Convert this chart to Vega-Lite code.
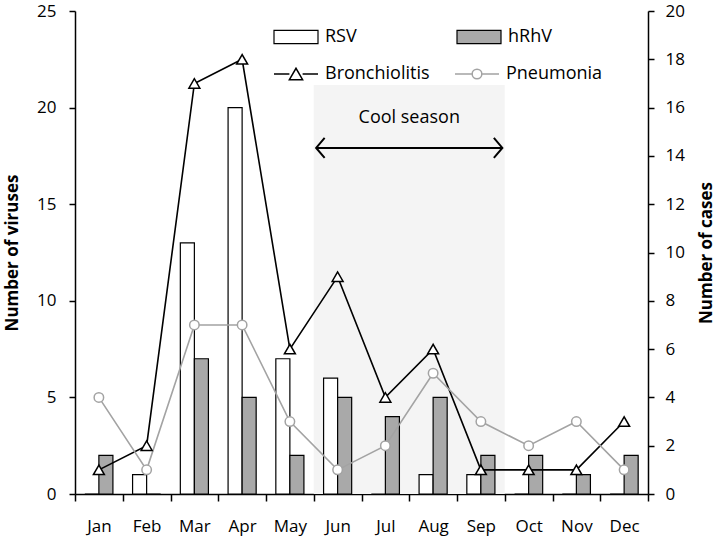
{
  "$schema": "https://vega.github.io/schema/vega-lite/v6.json",
  "width": 573,
  "height": 483,
  "autosize": {"type": "none"},
  "padding": {"left": 75, "top": 11, "right": 72, "bottom": 46},
  "background": "white",
  "config": {
    "view": {"stroke": null},
    "font": "Open Sans",
    "axis": {
      "grid": false,
      "domainColor": "black",
      "tickColor": "black",
      "labelColor": "black",
      "titleColor": "black",
      "labelFontSize": 17,
      "titleFontSize": 17,
      "titleFontWeight": "bold",
      "labelFont": "Open Sans",
      "titleFont": "Open Sans",
      "domainWidth": 1.5,
      "tickWidth": 1.5
    },
    "legend": {"labelFont": "Open Sans", "labelColor": "black"}
  },
  "datasets": {
    "viruses": [
      {"month": "Jan", "virus": "RSV", "count": 0},
      {"month": "Jan", "virus": "hRhV", "count": 2},
      {"month": "Feb", "virus": "RSV", "count": 1},
      {"month": "Feb", "virus": "hRhV", "count": 0},
      {"month": "Mar", "virus": "RSV", "count": 13},
      {"month": "Mar", "virus": "hRhV", "count": 7},
      {"month": "Apr", "virus": "RSV", "count": 20},
      {"month": "Apr", "virus": "hRhV", "count": 5},
      {"month": "May", "virus": "RSV", "count": 7},
      {"month": "May", "virus": "hRhV", "count": 2},
      {"month": "Jun", "virus": "RSV", "count": 6},
      {"month": "Jun", "virus": "hRhV", "count": 5},
      {"month": "Jul", "virus": "RSV", "count": 0},
      {"month": "Jul", "virus": "hRhV", "count": 4},
      {"month": "Aug", "virus": "RSV", "count": 1},
      {"month": "Aug", "virus": "hRhV", "count": 5},
      {"month": "Sep", "virus": "RSV", "count": 1},
      {"month": "Sep", "virus": "hRhV", "count": 2},
      {"month": "Oct", "virus": "RSV", "count": 0},
      {"month": "Oct", "virus": "hRhV", "count": 2},
      {"month": "Nov", "virus": "RSV", "count": 0},
      {"month": "Nov", "virus": "hRhV", "count": 1},
      {"month": "Dec", "virus": "RSV", "count": 0},
      {"month": "Dec", "virus": "hRhV", "count": 2}
    ],
    "cases": [
      {"month": "Jan", "disease": "Bronchiolitis", "cases": 1},
      {"month": "Feb", "disease": "Bronchiolitis", "cases": 2},
      {"month": "Mar", "disease": "Bronchiolitis", "cases": 17},
      {"month": "Apr", "disease": "Bronchiolitis", "cases": 18},
      {"month": "May", "disease": "Bronchiolitis", "cases": 6},
      {"month": "Jun", "disease": "Bronchiolitis", "cases": 9},
      {"month": "Jul", "disease": "Bronchiolitis", "cases": 4},
      {"month": "Aug", "disease": "Bronchiolitis", "cases": 6},
      {"month": "Sep", "disease": "Bronchiolitis", "cases": 1},
      {"month": "Oct", "disease": "Bronchiolitis", "cases": 1},
      {"month": "Nov", "disease": "Bronchiolitis", "cases": 1},
      {"month": "Dec", "disease": "Bronchiolitis", "cases": 3},
      {"month": "Jan", "disease": "Pneumonia", "cases": 4},
      {"month": "Feb", "disease": "Pneumonia", "cases": 1},
      {"month": "Mar", "disease": "Pneumonia", "cases": 7},
      {"month": "Apr", "disease": "Pneumonia", "cases": 7},
      {"month": "May", "disease": "Pneumonia", "cases": 3},
      {"month": "Jun", "disease": "Pneumonia", "cases": 1},
      {"month": "Jul", "disease": "Pneumonia", "cases": 2},
      {"month": "Aug", "disease": "Pneumonia", "cases": 5},
      {"month": "Sep", "disease": "Pneumonia", "cases": 3},
      {"month": "Oct", "disease": "Pneumonia", "cases": 2},
      {"month": "Nov", "disease": "Pneumonia", "cases": 3},
      {"month": "Dec", "disease": "Pneumonia", "cases": 1}
    ],
    "season": [
      {"start": 5, "end": 9, "bottom": 0, "top": 16.94, "arrowStart": 5.05, "arrowEnd": 8.95, "arrowY": 14.33, "mid": 7, "labelY": 15.57, "label": "Cool season"}
    ]
  },
  "layer": [
    {
      "data": {"name": "season"},
      "encoding": {
        "y": {"field": "arrowY", "type": "quantitative", "scale": {"domain": [0, 20], "nice": false, "zero": true}, "axis": null}
      },
      "layer": [
        {
          "mark": {"type": "rect", "color": "#f4f4f4"},
          "encoding": {
            "x": {"field": "start", "type": "quantitative", "scale": {"domain": [0, 12], "nice": false, "zero": false}, "axis": null},
            "x2": {"field": "end"},
            "y": {"field": "top", "type": "quantitative"},
            "y2": {"field": "bottom"}
          }
        },
        {
          "mark": {"type": "rule", "color": "black", "strokeWidth": 2},
          "encoding": {
            "x": {"field": "arrowStart", "type": "quantitative"},
            "x2": {"field": "arrowEnd"}
          }
        },
        {
          "mark": {"type": "point", "shape": "M0.85,-1L0,0L0.85,1", "filled": false, "stroke": "black", "strokeWidth": 2, "size": 400, "opacity": 1},
          "encoding": {
            "x": {"field": "arrowStart", "type": "quantitative"}
          }
        },
        {
          "mark": {"type": "point", "shape": "M-0.85,-1L0,0L-0.85,1", "filled": false, "stroke": "black", "strokeWidth": 2, "size": 400, "opacity": 1},
          "encoding": {
            "x": {"field": "arrowEnd", "type": "quantitative"}
          }
        },
        {
          "mark": {"type": "text", "fontSize": 18, "font": "Open Sans", "color": "black", "baseline": "middle", "align": "center"},
          "encoding": {
            "x": {"field": "mid", "type": "quantitative"},
            "y": {"field": "labelY", "type": "quantitative"},
            "text": {"field": "label"}
          }
        }
      ]
    },
    {
      "data": {"name": "viruses"},
      "mark": {"type": "bar", "stroke": "black", "strokeWidth": 1.2},
      "encoding": {
        "x": {
          "field": "month", "type": "nominal",
          "sort": ["Jan", "Feb", "Mar", "Apr", "May", "Jun", "Jul", "Aug", "Sep", "Oct", "Nov", "Dec"],
          "scale": {"type": "band", "paddingInner": 0, "paddingOuter": 0},
          "axis": {"title": null, "labelAngle": 0, "tickBand": "extent", "labelPadding": 17, "tickSize": 7, "labelFontSize": 17, "orient": "bottom"}
        },
        "xOffset": {"field": "virus", "type": "nominal", "sort": ["RSV", "hRhV"], "scale": {"paddingInner": 0, "paddingOuter": 0.7}},
        "y": {
          "field": "count", "type": "quantitative",
          "scale": {"domain": [0, 25], "nice": false},
          "axis": {"title": "Number of viruses", "orient": "left", "values": [0, 5, 10, 15, 20, 25], "tickSize": 6, "labelPadding": 13, "titlePadding": 15}
        },
        "fill": {
          "field": "virus", "type": "nominal",
          "scale": {"domain": ["RSV", "hRhV"], "range": ["white", "#a9a9a9"]},
          "legend": {
            "title": null, "orient": "none", "legendX": 198, "legendY": 3,
            "direction": "horizontal", "columns": 2, "columnPadding": 97,
            "symbolType": "M-1,-0.3H1V0.3H-1Z", "symbolSize": 1936,
            "symbolStrokeColor": "black", "symbolStrokeWidth": 1.2,
            "labelFontSize": 18, "labelOffset": 6, "padding": 0
          }
        }
      }
    },
    {
      "data": {"name": "cases"},
      "encoding": {
        "x": {
          "field": "month", "type": "nominal",
          "sort": ["Jan", "Feb", "Mar", "Apr", "May", "Jun", "Jul", "Aug", "Sep", "Oct", "Nov", "Dec"],
          "scale": {"type": "point", "padding": 0.5},
          "axis": null
        },
        "y": {
          "field": "cases", "type": "quantitative",
          "scale": {"domain": [0, 20], "nice": false},
          "axis": {"title": "Number of cases", "orient": "right", "values": [0, 2, 4, 6, 8, 10, 12, 14, 16, 18, 20], "tickSize": 6, "labelPadding": 11, "titlePadding": 14, "titleAngle": 270, "titleBaseline": "top"}
        },
        "color": {
          "field": "disease", "type": "nominal",
          "scale": {"domain": ["Bronchiolitis", "Pneumonia"], "range": ["black", "#a3a3a3"]},
          "legend": {
            "title": null, "orient": "none", "legendX": 198, "legendY": 40,
            "direction": "horizontal", "columns": 2, "columnPadding": 22,
            "symbolSize": 1936, "symbolStrokeWidth": 1.5,
            "labelFontSize": 18, "labelOffset": 6, "padding": 0,
            "encode": {
              "symbols": {
                "update": {
                  "shape": {"signal": "datum.value === 'Bronchiolitis' ? 'M-1,0H-0.3M0.3,0H1M-0.3,0.26L0,-0.26L0.3,0.26Z' : 'M-1,0H-0.22M0.22,0H1M-0.22,0A0.22,0.22 0 1,0 0.22,0A0.22,0.22 0 1,0 -0.22,0Z'"},
                  "fill": {"value": "white"},
                  "opacity": {"value": 1}
                }
              }
            }
          }
        }
      },
      "layer": [
        {"mark": {"type": "line", "strokeWidth": 1.6}},
        {
          "transform": [{"filter": "datum.disease === 'Bronchiolitis'"}],
          "mark": {"type": "point", "shape": "triangle-up", "filled": false, "fill": "white", "strokeWidth": 1.5, "size": 120, "opacity": 1}
        },
        {
          "transform": [{"filter": "datum.disease === 'Pneumonia'"}],
          "mark": {"type": "point", "shape": "circle", "filled": false, "fill": "white", "strokeWidth": 1.5, "size": 90, "opacity": 1}
        }
      ]
    }
  ],
  "resolve": {"scale": {"x": "independent", "y": "independent"}}
}
